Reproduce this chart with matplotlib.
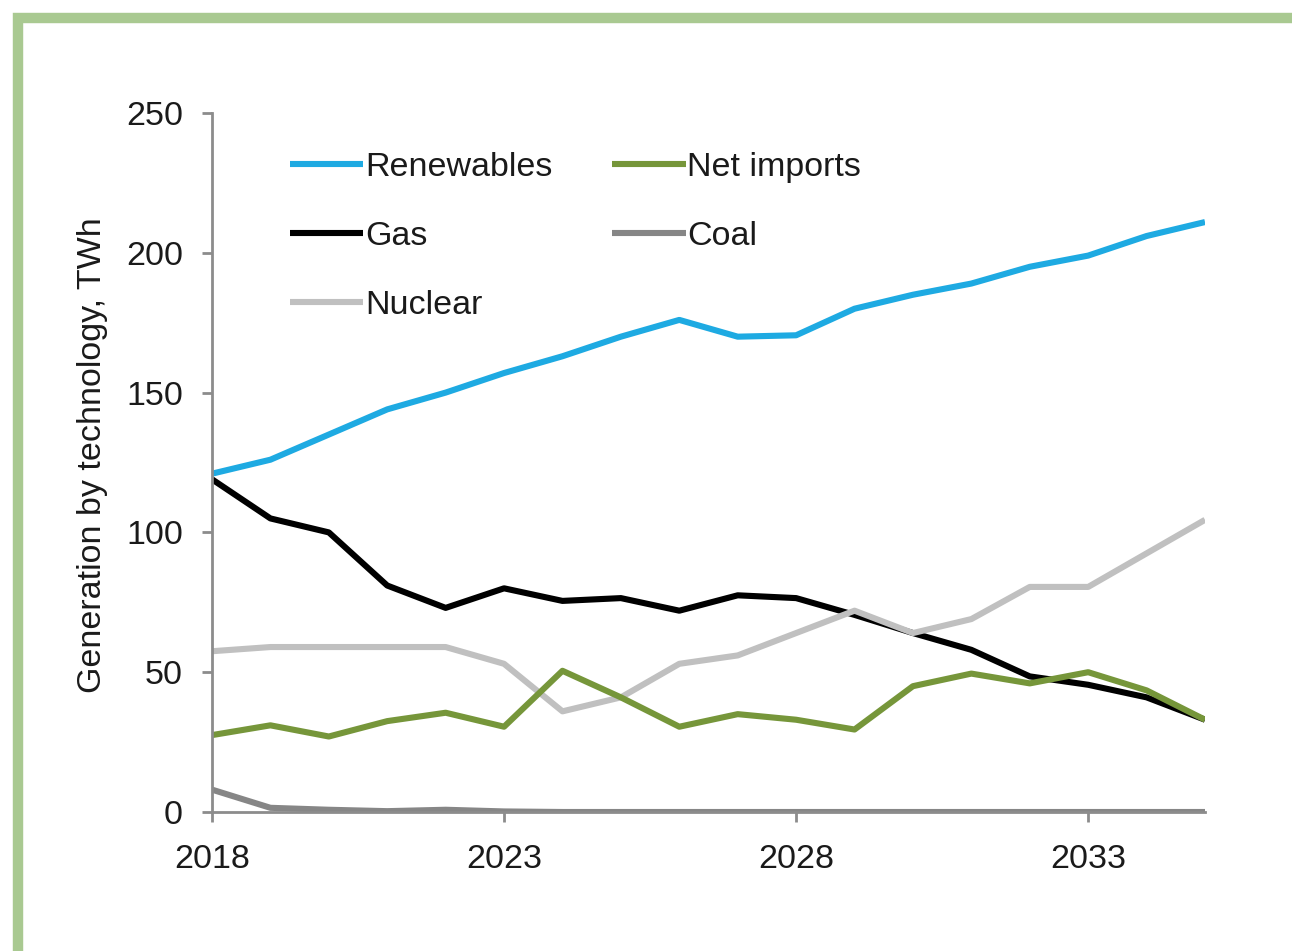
import matplotlib
matplotlib.use("Agg")
import matplotlib.pyplot as plt
from matplotlib.patches import Rectangle

plt.rcParams['font.family'] = ['Liberation Sans', 'DejaVu Sans']

years = list(range(2018, 2036))
renewables = [121, 126, 135, 144, 150, 157, 163, 170, 176, 170, 170.5, 180, 185, 189, 195, 199, 206, 211]
gas = [119, 105, 100, 81, 73, 80, 75.5, 76.5, 72, 77.5, 76.5, 70.5, 64, 58, 48.5, 45.5, 41, 33]
nuclear = [57.5, 59, 59, 59, 59, 53, 36, 41, 53, 56, 64, 72, 64, 69, 80.5, 80.5, 92.5, 104.5]
net_imports = [27.5, 31, 27, 32.5, 35.5, 30.5, 50.5, 41, 30.5, 35, 33, 29.5, 45, 49.5, 46, 50, 43.5, 33]
coal = [8, 1.5, 0.8, 0.3, 0.8, 0.2, 0, 0, 0, 0, 0, 0, 0, 0, 0, 0, 0, 0]

xticks = [2018, 2023, 2028, 2033]
yticks = [0, 50, 100, 150, 200, 250]

W, H = 1292, 951
fig = plt.figure(figsize=(W / 100, H / 100), dpi=100)
ax = fig.add_axes([212 / W, 1 - 812 / H, (1205 - 212) / W, (812 - 113) / H])

# green frame (only top and left edges are inside the picture)
frame_col = '#a9c991'
fig.patches.append(Rectangle((17.5 / W, -0.1), 1.2, 1 - 17.5 / H + 0.1, transform=fig.transFigure,
                             fill=False, edgecolor=frame_col, linewidth=7.5))

lw = 4.4
ax.plot(years, renewables, color='#1eaae2', lw=lw, label='Renewables', solid_capstyle='butt')
ax.plot(years, gas, color='#000000', lw=lw, label='Gas', solid_capstyle='butt')
ax.plot(years, nuclear, color='#c0c0c0', lw=lw, label='Nuclear', solid_capstyle='butt')
ax.plot(years, net_imports, color='#76963a', lw=lw, label='Net imports', solid_capstyle='butt')
ax.plot(years, coal, color='#868686', lw=lw, label='Coal', solid_capstyle='butt')

ax.set_xlim(2018, 2035)
ax.set_ylim(0, 250)
ax.set_xticks(xticks)
ax.set_yticks(yticks)
ax.spines['top'].set_visible(False)
ax.spines['right'].set_visible(False)
for s in ('left', 'bottom'):
    ax.spines[s].set_color('#8c8c8c')
    ax.spines[s].set_linewidth(2)
ax.tick_params(axis='both', colors='#8c8c8c', width=2, length=7, labelsize=24.5,
               labelcolor='#1a1a1a')
ax.tick_params(axis='y', pad=14)
ax.tick_params(axis='x', pad=16)

ax.set_ylabel('Generation by technology, TWh', fontsize=24.5, color='#1a1a1a')
ax.yaxis.set_label_coords(-0.105, 0.511)

leg = ax.legend(ncol=2, loc='upper left', bbox_to_anchor=(0.0785, 0.944), frameon=False,
                borderpad=0, borderaxespad=0,
                fontsize=24.5, handlelength=2.15, handletextpad=0.05, columnspacing=1.77,
                labelspacing=1.12)
for t in leg.get_texts():
    t.set_color('#1a1a1a')

fig.savefig('out.png', dpi=100, facecolor='white')
